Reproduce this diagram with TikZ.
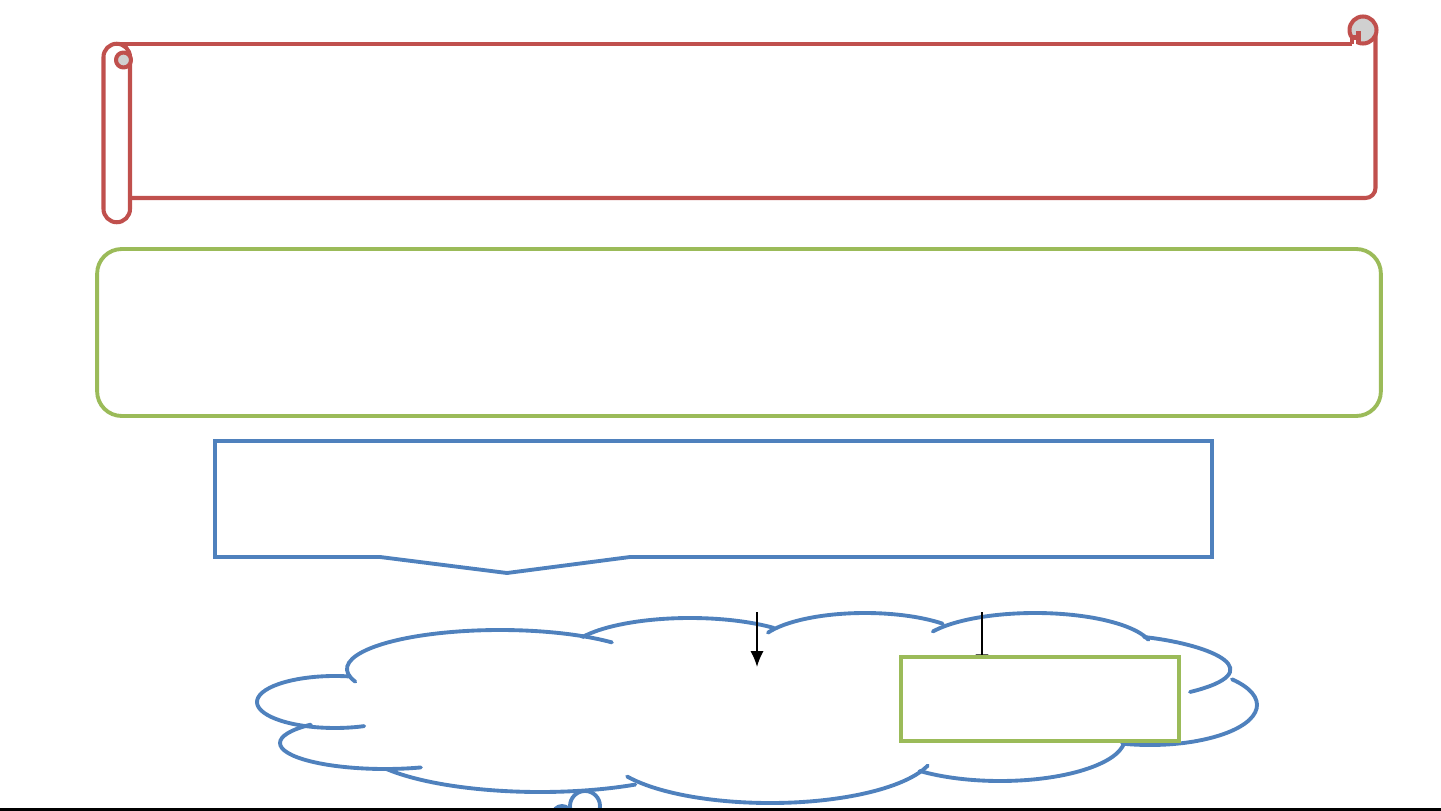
\documentclass[tikz,border=0pt]{standalone}
\usepackage{tikz}
\usetikzlibrary{arrows.meta,positioning}
\definecolor{scrollred}{RGB}{192,80,77}
\definecolor{panelgreen}{RGB}{155,187,89}
\definecolor{cloudblue}{RGB}{79,129,189}
\definecolor{curlgray}{RGB}{208,208,208}
\tikzstyle{scroll} = [draw=scrollred, line width=2.3pt, line join=round]
\tikzstyle{panel} = [draw=panelgreen, line width=2.2pt, rounded corners=14pt]
\tikzstyle{answer} = [draw=panelgreen, line width=2.2pt, fill=white]
\tikzstyle{callout} = [draw=cloudblue, line width=2.2pt]
\tikzstyle{cloudline} = [draw=cloudblue, line width=2.2pt, line cap=round]
\tikzstyle{arrow} = [line width=1.1pt,-{Latex[length=9pt,width=7.5pt]}]
\newcommand{\cloudarc}[6]{\draw[cloudline] ([shift={(#5:#3 and #4)}]#1,#2) arc[start angle=#5, end angle=#6, x radius=#3, y radius=#4];}

\begin{document}
\begin{tikzpicture}[x=0.02cm,y=-0.02cm]
\useasboundingbox (0,0) rectangle (1441,811);
\draw[scroll] (116.75,43.75) -- (1352,43.75);
\draw[scroll] (1375.5,30) -- (1375.5,188) arc[start angle=0, end angle=90, radius=10] -- (130,198);
\draw[scroll, fill=white] (103.5,57) -- (103.5,209) arc[start angle=180, end angle=0, radius=13.25]
    -- (130,57) arc[start angle=0, end angle=-180, radius=13.25] -- cycle;
\draw[scroll, fill=curlgray] (123.5,60) circle[radius=7.5];
\draw[scroll, fill=curlgray] (1363,30) circle[radius=13.5];
\draw[scroll, fill=white] (1352,43.75) -- (1352,37.5) -- (1358.5,37.5) -- (1358.5,43.75);
\draw[scroll] (1358.5,37.5) -- (1358.5,31);
\node[panel, minimum width=25.68cm, minimum height=3.34cm] (question) at (739,332.5) {};
\draw[callout] (215,441) -- (1212,441) -- (1212,557) -- (630,557) -- (507,573) -- (380,557) -- (215,557) -- cycle;
\cloudarc{500}{669}{153}{39}{161}{317}
\cloudarc{335}{702}{78}{26}{280}{68}
\cloudarc{385}{743}{105}{26}{225}{70}
\cloudarc{540}{740}{185}{52}{146}{59}
\cloudarc{770}{750}{165}{53}{150}{17}
\cloudarc{1000}{738}{125}{43}{0}{130}
\cloudarc{1150}{705}{107}{40}{-40}{105}
\draw[cloudline] (1144,637) .. controls (1215,645) and (1272,672) .. (1190,692);
\cloudarc{1035}{650}{118}{37}{210}{344}
\cloudarc{865}{648}{108}{35}{206}{316}
\cloudarc{690}{655}{123}{37}{209}{313}
\begin{scope}
\clip (0,0) rectangle (1441,809);
\draw[cloudline] (585,806) circle[radius=15];
\draw[cloudline] (562,815) circle[radius=9];
\end{scope}
\coordinate (down1) at (757,612);
\coordinate (down1end) at (757,667);
\coordinate (down2) at (982,612);
\draw[arrow] (down1) -- (down1end);
\node[answer, minimum width=5.56cm, minimum height=1.68cm] (answer) at (1040,699) {};
\draw[arrow] (down2) -- ([yshift=-0.3cm]down2 |- answer.north);
\node[answer, minimum width=5.56cm, minimum height=1.68cm] at (answer) {};
\coordinate (baseleft) at (0,809.5);
\coordinate (baseright) at (1441,809.5);
\draw[line width=1.2pt] (baseleft) -- (baseright);
\end{tikzpicture}
\end{document}
